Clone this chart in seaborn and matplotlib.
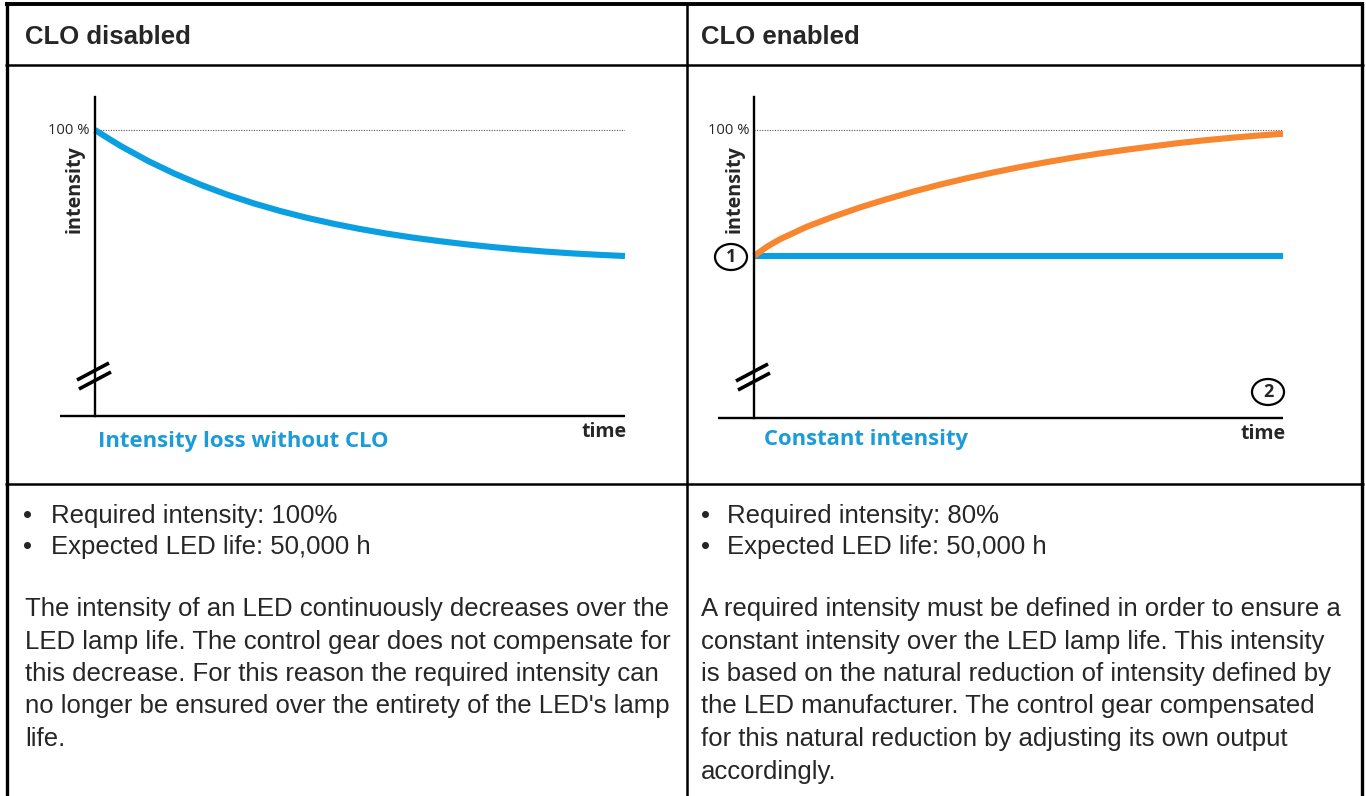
import matplotlib
matplotlib.use("Agg")
import matplotlib.pyplot as plt
from matplotlib.lines import Line2D
from matplotlib.patches import Ellipse
import seaborn as sns

# ---------------------------------------------------------------------------
# Data
# ---------------------------------------------------------------------------
hours = [0, 1250, 2500, 5000, 7500, 10000, 12500, 15000, 17500, 20000, 22500, 25000,
         27500, 30000, 32500, 35000, 37500, 40000, 42500, 45000, 47500, 50000]

# LED intensity without compensation (% of initial)
intensity_no_clo = [100.0, 98.67, 97.39, 95.09, 93.07, 91.29, 89.72, 88.34, 87.13, 86.06,
                    85.12, 84.29, 83.56, 82.92, 82.36, 81.86, 81.42, 81.04, 80.70, 80.42,
                    80.19, 80.0]

# control gear output with CLO (% of maximum)
output_clo = [80.0, 81.5, 82.7, 84.65, 86.25, 87.7, 89.0, 90.2, 91.3, 92.3, 93.22,
              94.07, 94.85, 95.57, 96.23, 96.83, 97.37, 97.9, 98.35, 98.75, 99.1, 99.4]

# resulting constant intensity with CLO
const_hours = [0, 50000]
const_intensity = [80.0, 80.0]

headers = ["CLO disabled", "CLO enabled"]
captions = ["Intensity loss without CLO", "Constant intensity"]
bullets_left = ["Required intensity: 100%", "Expected LED life: 50,000 h"]
bullets_right = ["Required intensity: 80%", "Expected LED life: 50,000 h"]
para_left = [
    "The intensity of an LED continuously decreases over the",
    "LED lamp life. The control gear does not compensate for",
    "this decrease. For this reason the required intensity can",
    "no longer be ensured over the entirety of the LED's lamp",
    "life.",
]
para_right = [
    "A required intensity must be defined in order to ensure a",
    "constant intensity over the LED lamp life. This intensity",
    "is based on the natural reduction of intensity defined by",
    "the LED manufacturer. The control gear compensated",
    "for this natural reduction by adjusting its own output",
    "accordingly.",
]

# ---------------------------------------------------------------------------
# Styling
# ---------------------------------------------------------------------------
sns.set_theme(style="white")
plt.rcParams["font.family"] = ["Liberation Sans", "DejaVu Sans"]

BLUE = "#0A9FE0"
BLUE_TEXT = "#1B9BD8"
ORANGE = "#F7862F"
W, H = 1366, 796

fig = plt.figure(figsize=(W / 100, H / 100), dpi=100)
fig.patch.set_facecolor("white")


def fx(x):
    return x / W


def fy(y):
    return 1 - y / H


def fig_line(xs, ys, lw, color="black", **kw):
    fig.add_artist(Line2D([fx(v) for v in xs], [fy(v) for v in ys],
                          transform=fig.transFigure, lw=lw, color=color,
                          solid_capstyle="butt", **kw))


def fig_text(x, y, s, **kw):
    fig.text(fx(x), fy(y), s, **kw)


# ---------------------------------------------------------------------------
# Table frame
# ---------------------------------------------------------------------------
fig_line([7, 7], [2, 796], 2.4)
fig_line([1362, 1362], [2, 796], 2.4)
fig_line([687, 687], [3, 796], 1.8)
fig_line([5, 1364], [4, 4], 2.8)
fig_line([5, 1364], [65, 65], 1.8)
fig_line([5, 1364], [484, 484], 1.8)

fig_text(25, 37, headers[0], fontsize=18.5, fontweight="bold", va="center")
fig_text(701, 37, headers[1], fontsize=18.5, fontweight="bold", va="center")

# ---------------------------------------------------------------------------
# Charts
# ---------------------------------------------------------------------------
PX_PER_PCT = 6.3


def make_axes(x0, x1, top, bottom, y100):
    ax = fig.add_axes([fx(x0), fy(bottom), (x1 - x0) / W, (bottom - top) / H])
    ax.set_xlim(0, 50000)
    ax.set_ylim(100 - (bottom - y100) / PX_PER_PCT, 100 + (y100 - top) / PX_PER_PCT)
    ax.set_facecolor("none")
    for side in ["top", "right", "bottom"]:
        ax.spines[side].set_visible(False)
    ax.spines["left"].set_color("black")
    ax.spines["left"].set_linewidth(1.7)
    ax.set_xticks([])
    ax.set_yticks([])
    ax.set_xlabel("")
    ax.set_ylabel("")
    ax.axhline(100, color="#555555", lw=0.8, ls=(0, (1, 1.3)))
    return ax


line_kw = dict(lw=4.4, clip_on=False, solid_joinstyle="round", solid_capstyle="butt")

# left: without CLO
axL = make_axes(95, 625, 97, 416, 130)
sns.lineplot(x=hours, y=intensity_no_clo, color=BLUE, ax=axL, **line_kw)
fig_line([60, 625], [416, 416], 1.7)

# right: with CLO
axR = make_axes(754, 1283, 97, 418, 130)
sns.lineplot(x=const_hours, y=const_intensity, color=BLUE, ax=axR, **line_kw)
sns.lineplot(x=hours, y=output_clo, color=ORANGE, ax=axR, **line_kw)
fig_line([718, 1283], [418, 418], 1.7)

for ax in (axL, axR):
    if ax.get_legend() is not None:
        ax.get_legend().remove()

# axis break marks
for x_axis, dy in [(95, 0), (754, 1)]:
    fig_line([x_axis - 18, x_axis + 14], [380 + dy, 363 + dy], 2.6)
    fig_line([x_axis - 16, x_axis + 16], [389 + dy, 372 + dy], 2.6)

# axis annotations
label_font = ["Open Sans", "DejaVu Sans"]
for x_axis, x_int, x_time, y_time in [(95, 75, 604, 432), (754, 735, 1263, 434)]:
    fig_text(x_axis - 5, 130, "100 %", fontsize=10.6, family=label_font,
             ha="right", va="center")
    fig_text(x_int, 189, "intensity", fontsize=14.2, family=label_font,
             fontweight="bold", rotation=90, ha="center", va="center")
    fig_text(x_time, y_time, "time", fontsize=14, family=label_font,
             fontweight="bold", ha="center", va="center")

fig_text(98, 441, captions[0], fontsize=15.9, family=label_font,
         fontweight="bold", color=BLUE_TEXT, va="center")
fig_text(764, 440, captions[1], fontsize=15.8, family=label_font,
         fontweight="bold", color=BLUE_TEXT, va="center")

# numbered markers
for cx, cy, num in [(731, 257, "1"), (1268, 392, "2")]:
    fig.add_artist(Ellipse((fx(cx), fy(cy)), 32 / W, 26 / H,
                           transform=fig.transFigure, facecolor="white",
                           edgecolor="black", lw=1.6))
    fig_text(cx, cy, num, fontsize=13, family=label_font, fontweight="bold",
             ha="center", va="center")

# ---------------------------------------------------------------------------
# Description texts
# ---------------------------------------------------------------------------
BODY = 18.5
for x_bullet, x_text, items in [(27, 51, bullets_left), (705, 727, bullets_right)]:
    for i, item in enumerate(items):
        y = 516 + 31 * i
        fig_text(x_bullet, y, "\u2022", fontsize=BODY, ha="center", va="center")
        fig_text(x_text, y, item, fontsize=BODY, va="center")

for x_text, lines in [(25, para_left), (701, para_right)]:
    for i, line in enumerate(lines):
        fig_text(x_text, 609 + 32.5 * i, line, fontsize=BODY, va="center")

fig.savefig("out.png", dpi=100, facecolor="white")
